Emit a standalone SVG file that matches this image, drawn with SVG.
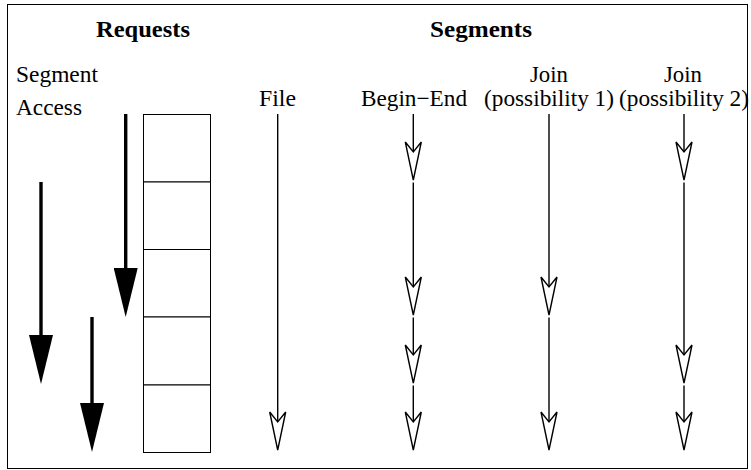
<svg xmlns="http://www.w3.org/2000/svg" width="751" height="470" viewBox="0 0 751 470">
<defs>
<style>
text{font-family:"Liberation Serif","Times New Roman",serif;font-size:23px;fill:#000}
.b{font-weight:bold}
.box{fill:#fff;stroke:#000;stroke-width:1}
.thick{stroke:#000;stroke-width:3.4;fill:none}
.thin{stroke:#000;stroke-width:1.4;fill:none}
</style>
<marker id="solid" markerUnits="userSpaceOnUse" viewBox="0 0 49 24" markerWidth="49" markerHeight="24" refX="0" refY="12" orient="auto">
<path d="M0,0 L49,12 L0,24 Z" fill="#000"/>
</marker>
<marker id="open" markerUnits="userSpaceOnUse" viewBox="-1 -1 42 20" markerWidth="42" markerHeight="20" refX="10" refY="9" orient="auto">
<path d="M0,1 L10,9 L0,17 L38,9 Z" fill="#fff" stroke="#000" stroke-width="1.4" stroke-linejoin="miter"/>
</marker>
</defs>
<rect x="7.5" y="4.5" width="740" height="464" fill="#fff" stroke="#000" stroke-width="1"/>
<g id="titles">
<text class="b" x="96" y="37" textLength="94" lengthAdjust="spacingAndGlyphs">Requests</text>
<text class="b" x="430" y="37" textLength="102" lengthAdjust="spacingAndGlyphs">Segments</text>
</g>
<g id="labels">
<text x="16" y="82" textLength="82" lengthAdjust="spacingAndGlyphs">Segment</text>
<text x="16" y="115" textLength="66" lengthAdjust="spacingAndGlyphs">Access</text>
<text x="259" y="106" textLength="37" lengthAdjust="spacingAndGlyphs">File</text>
<text x="361" y="106" textLength="106" lengthAdjust="spacingAndGlyphs">Begin−End</text>
<text x="530" y="82" textLength="38" lengthAdjust="spacingAndGlyphs">Join</text>
<text x="484" y="106" textLength="130" lengthAdjust="spacingAndGlyphs">(possibility 1)</text>
<text x="664" y="82" textLength="38" lengthAdjust="spacingAndGlyphs">Join</text>
<text x="619" y="106" textLength="130" lengthAdjust="spacingAndGlyphs">(possibility 2)</text>
</g>
<g id="file-blocks">
<rect id="block1" class="box" x="143.5" y="114.5" width="67" height="67.5"/>
<rect id="block2" class="box" x="143.5" y="182" width="67" height="67.5"/>
<rect id="block3" class="box" x="143.5" y="249.5" width="67" height="67.5"/>
<rect id="block4" class="box" x="143.5" y="317" width="67" height="68"/>
<rect id="block5" class="box" x="143.5" y="385" width="67" height="67.5"/>
</g>
<g id="connectors">
<line class="thick" x1="41" y1="182" x2="41" y2="335" marker-end="url(#solid)"/>
<line class="thick" x1="125.7" y1="114" x2="125.7" y2="268" marker-end="url(#solid)"/>
<line class="thick" x1="92" y1="317" x2="92" y2="403" marker-end="url(#solid)"/>
<line class="thin" x1="277.7" y1="114" x2="277.7" y2="422" marker-end="url(#open)"/>
<line class="thin" x1="413.3" y1="114" x2="413.3" y2="152" marker-end="url(#open)"/>
<line class="thin" x1="413.3" y1="182.5" x2="413.3" y2="287" marker-end="url(#open)"/>
<line class="thin" x1="413.3" y1="317.5" x2="413.3" y2="355" marker-end="url(#open)"/>
<line class="thin" x1="413.3" y1="385.5" x2="413.3" y2="422" marker-end="url(#open)"/>
<line class="thin" x1="549" y1="114" x2="549" y2="287" marker-end="url(#open)"/>
<line class="thin" x1="549" y1="317.5" x2="549" y2="422" marker-end="url(#open)"/>
<line class="thin" x1="684" y1="114" x2="684" y2="152" marker-end="url(#open)"/>
<line class="thin" x1="684" y1="182.5" x2="684" y2="355" marker-end="url(#open)"/>
<line class="thin" x1="684" y1="385.5" x2="684" y2="422" marker-end="url(#open)"/>
</g>
</svg>
